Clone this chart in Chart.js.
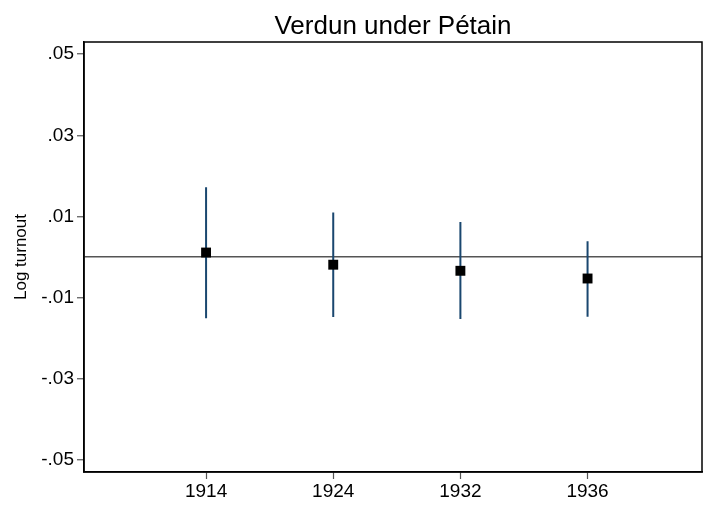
<!DOCTYPE html>
<html>
<head>
<meta charset="utf-8">
<script src="https://cdn.jsdelivr.net/npm/chart.js@4.4.0/dist/chart.umd.min.js"></script>
<style>
html, body { margin: 0; padding: 0; background: #fff; overflow: hidden; }
#wrap { width: 703px; height: 506px; }
canvas { display: block; }
</style>
</head>
<body>
<div id="wrap"><canvas id="c"></canvas></div>
<script>
// values
var years = ['1914', '1924', '1932', '1936'];
var estimate = [0.0011, -0.0019, -0.0034, -0.0053];
var ciLow = [-0.0151, -0.0148, -0.0153, -0.0147];
var ciHigh = [0.0172, 0.0110, 0.0086, 0.0039];
var yTicks = [-0.05, -0.03, -0.01, 0, 0.01, 0.03, 0.05];

var xMin = -0.96, xMax = 3.9;
var yMin = -0.053, yMax = 0.053;

var FONT = '"Liberation Sans", Arial, sans-serif';

// error bars as one line dataset broken by gaps
var bars = [];
for (var i = 0; i < years.length; i++) {
  bars.push({x: i, y: ciLow[i]});
  bars.push({x: i, y: ciHigh[i]});
  bars.push({x: i, y: null});
}
var points = estimate.map(function (v, i) { return {x: i, y: v}; });

var outline = {
  id: 'outline',
  afterDatasetsDraw: function (chart) {
    var a = chart.chartArea, ctx = chart.ctx;
    ctx.save();
    ctx.strokeStyle = '#000';
    ctx.lineWidth = 1.5;
    ctx.strokeRect(a.left, a.top, a.right - a.left, a.bottom - a.top);
    ctx.restore();
  }
};

function fmt(v) {
  return v.toFixed(2).replace('0.', '.');
}

new Chart(document.getElementById('c'), {
  type: 'scatter',
  data: {
    datasets: [
      {
        data: points,
        pointStyle: 'rect',
        pointRadius: 7,
        pointHoverRadius: 7,
        backgroundColor: '#000',
        borderColor: '#000',
        borderWidth: 0,
        showLine: false
      },
      {
        data: bars,
        showLine: true,
        spanGaps: false,
        borderColor: '#1a476f',
        borderWidth: 2,
        pointRadius: 0
      }
    ]
  },
  options: {
    responsive: true,
    maintainAspectRatio: false,
    animation: false,
    layout: { autoPadding: false, padding: { left: 0, right: 1, top: 0, bottom: 0 } },
    plugins: {
      legend: { display: false },
      tooltip: { enabled: false },
      title: { display: false }
    },
    scales: {
      x: {
        type: 'linear',
        min: xMin,
        max: xMax,
        afterBuildTicks: function (s) {
          s.ticks = years.map(function (y, i) { return {value: i}; });
        },
        afterFit: function (s) { s.height = 34; s.paddingLeft = 0; s.paddingRight = 0; },
        ticks: {
          color: '#000',
          font: { family: FONT, size: 19 },
          padding: 1,
          maxRotation: 0,
          callback: function (v) { return years[v]; }
        },
        grid: { drawOnChartArea: false, tickLength: 7, tickColor: '#555', tickWidth: 1.2 },
        border: { color: '#000', width: 1.5 }
      },
      // top axis only carries the title, centred over the plot region
      top: {
        type: 'linear',
        position: 'top',
        min: xMin,
        max: xMax,
        afterFit: function (s) { s.height = 42; s.paddingLeft = 0; s.paddingRight = 0; },
        ticks: { display: false },
        grid: { display: false },
        border: { display: false },
        title: {
          display: true,
          text: 'Verdun under Pétain',
          color: '#000',
          font: { family: FONT, size: 26, lineHeight: 1.2 },
          padding: { top: 11, bottom: 0 }
        }
      },
      y: {
        min: yMin,
        max: yMax,
        afterBuildTicks: function (s) {
          s.ticks = yTicks.map(function (v) { return {value: v}; });
        },
        afterFit: function (s) { s.width = 84; },
        ticks: {
          color: '#000',
          font: { family: FONT, size: 19 },
          padding: 3,
          callback: function (v) { return v === 0 ? '' : fmt(v); }
        },
        grid: {
          drawOnChartArea: true,
          tickLength: 7,
          lineWidth: 1.5,
          color: function (c) { return c.tick && c.tick.value === 0 ? '#555' : 'rgba(0,0,0,0)'; },
          tickColor: function (c) { return c.tick && c.tick.value === 0 ? 'rgba(0,0,0,0)' : '#555'; },
          tickWidth: 1.2
        },
        border: { color: '#000', width: 1.5 },
        title: {
          display: true,
          text: 'Log turnout',
          color: '#000',
          font: { family: FONT, size: 17 },
          padding: { top: 11, bottom: 0 }
        }
      }
    }
  },
  plugins: [outline]
});
</script>
</body>
</html>
